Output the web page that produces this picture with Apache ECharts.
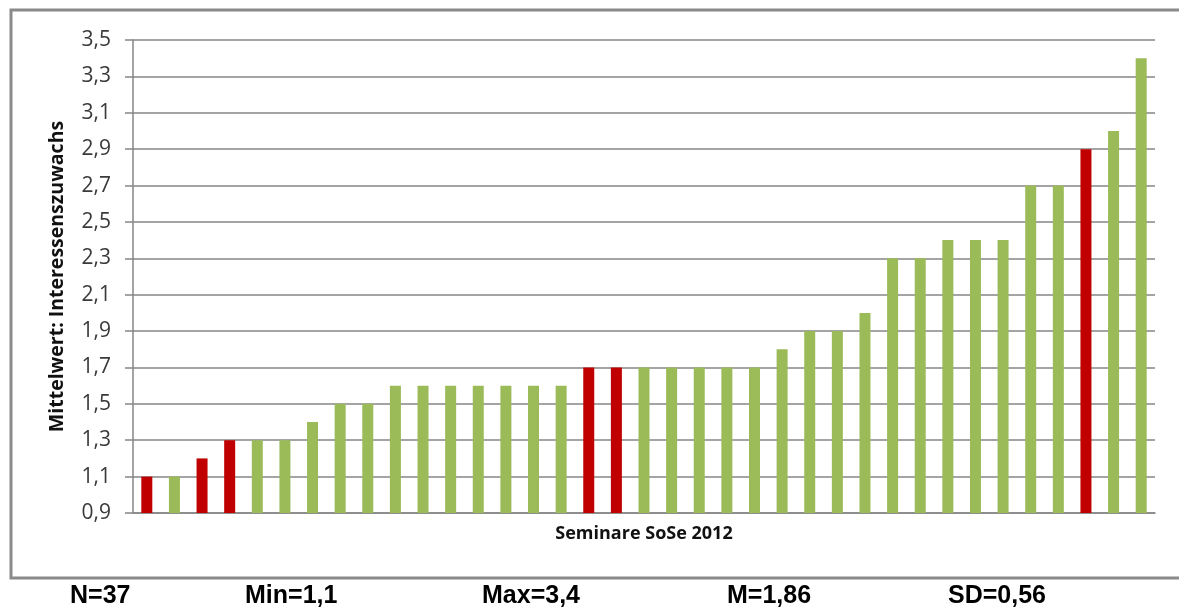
<!DOCTYPE html>
<html>
<head>
<meta charset="utf-8">
<script src="https://cdn.jsdelivr.net/npm/echarts@6/dist/echarts.min.js"></script>
<style>
  html, body { margin: 0; padding: 0; background: #fff; }
  #chart { width: 1179px; height: 608px; }
</style>
</head>
<body>
<div id="chart"></div>
<script>
// Seminare SoSe 2012, sortiert nach Mittelwert
var seminare = [];
var werte = [1.1, 1.1, 1.2, 1.3, 1.3, 1.3, 1.4, 1.5, 1.5, 1.6, 1.6, 1.6, 1.6, 1.6, 1.6, 1.6,
             1.7, 1.7, 1.7, 1.7, 1.7, 1.7, 1.7, 1.8, 1.9, 1.9, 2.0, 2.3, 2.3, 2.4, 2.4, 2.4,
             2.7, 2.7, 2.9, 3.0, 3.4];
// 1 = rot markiert
var markiert = [1, 0, 1, 1, 0, 0, 0, 0, 0, 0, 0, 0, 0, 0, 0, 0,
                1, 1, 0, 0, 0, 0, 0, 0, 0, 0, 0, 0, 0, 0, 0, 0,
                0, 0, 1, 0, 0];
var kennwerte = ['N=37', 'Min=1,1', 'Max=3,4', 'M=1,86', 'SD=0,56'];
var yMin = 0.9, yMax = 3.5;

for (var i = 0; i < werte.length; i++) seminare.push('S' + (i + 1));

var rot = '#C00000', gruen = '#9BBB59';
var kennX = [70, 245, 482, 727, 948];

var chart = echarts.init(document.getElementById('chart'));
var option = {
    animation: false,
    backgroundColor: '#fff',
    grid: { left: 133, right: 24, top: 40, bottom: 95 },
    xAxis: {
        type: 'category',
        data: seminare,
        name: 'Seminare SoSe 2012',
        nameLocation: 'middle',
        nameGap: 12,
        nameTextStyle: { fontFamily: 'Open Sans', fontWeight: 'bold', fontSize: 18, color: '#111', verticalAlign: 'top' },
        axisLine: { lineStyle: { color: '#868686', width: 1.5 } },
        axisTick: { show: false },
        axisLabel: { show: false }
    },
    yAxis: {
        type: 'value',
        // Achse beginnt bei 0,9: Werte werden um yMin verschoben dargestellt
        min: 0,
        max: yMax - yMin,
        interval: 0.2,
        name: 'Mittelwert: Interessenszuwachs',
        nameLocation: 'middle',
        nameGap: 66,
        nameTextStyle: { fontFamily: 'Open Sans', fontWeight: 'bold', fontSize: 19.5, color: '#111' },
        axisLine: { show: true, lineStyle: { color: '#868686', width: 1.5 } },
        axisTick: { show: true, length: 8, lineStyle: { color: '#868686', width: 1.5 } },
        axisLabel: {
            margin: 22,
            fontFamily: 'Open Sans',
            fontSize: 21,
            color: '#3a3a3a',
            formatter: function (v) {
                return (v + yMin).toFixed(1).replace('.', ',');
            }
        },
        splitLine: { lineStyle: { color: '#868686', width: 1.5 } }
    },
    series: [{
        type: 'bar',
        barWidth: 11,
        data: werte.map(function (v, i) {
            return {
                value: +(v - yMin).toFixed(2),
                itemStyle: { color: markiert[i] ? rot : gruen }
            };
        })
    }],
    graphic: [{
        type: 'rect',
        shape: { x: 11, y: 10, width: 1180, height: 568 },
        style: { fill: 'none', stroke: '#8a8a8a', lineWidth: 3 },
        z: 100
    }].concat(kennwerte.map(function (t, i) {
        return {
            type: 'text',
            left: kennX[i],
            top: 584,
            style: { text: t, font: 'bold 25px "Liberation Sans", Arial', fill: '#000' }
        };
    }))
};
chart.setOption(option);
</script>
</body>
</html>
